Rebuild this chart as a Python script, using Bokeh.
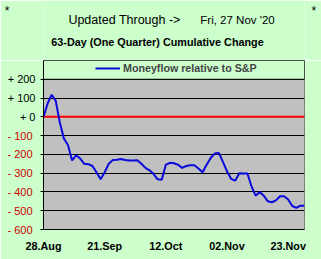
from bokeh.plotting import figure
from bokeh.models import (FixedTicker, Span, BoxAnnotation, Label, LinearAxis,
                          ColumnDataSource)
from bokeh.layouts import column
from bokeh.embed import file_html
from bokeh.resources import INLINE

# ---- data -------------------------------------------------------------
day_index = list(range(65))
moneyflow = [0, 70, 118, 85, -30, -115, -150, -232, -205, -222,
             -250, -252, -262, -295, -333, -295, -250, -230, -228, -225,
             -230, -233, -232, -231, -250, -272, -285, -305, -333, -335,
             -255, -245, -247, -255, -272, -262, -258, -258, -275, -295,
             -255, -219, -195, -192, -240, -290, -330, -340, -300, -302,
             -302, -370, -420, -400, -420, -450, -455, -445, -423, -423,
             -440, -475, -485, -473, -473]
x_tick_pos = [0, 15, 30, 45, 60]
x_tick_labels = ["28.Aug", "21.Sep", "12.Oct", "02.Nov", "23.Nov"]
y_ticks = [200, 100, 0, -100, -200, -300, -400, -500, -600]
y_tick_labels = ["+ 200", "+ 100", "+ 0", "- 100", "- 200", "- 300",
                 "- 400", "- 500", "- 600"]
series_name = "Moneyflow relative to S&P"
chart_title = "63-Day (One Quarter) Cumulative Change"
header_left = "Updated Through ->"
header_date = "Fri, 27 Nov '20"
corner_mark = "*"

BG = "#CCFFCC"
NEG_RED = "#CC0000"
FONT = "Liberation Sans"
W, H = 321, 259
HEAD_H = 60
MAIN_H = H - HEAD_H
LB, RB = 43, 17

# ---- header strip -----------------------------------------------------
head = figure(width=W, height=HEAD_H, x_range=(0, W - LB - RB),
              y_range=(0, HEAD_H), output_backend="svg",
              toolbar_location=None, x_axis_type=None,
              min_border_left=LB, min_border_right=RB, min_border_top=0,
              min_border_bottom=0)
head.background_fill_color = BG
head.border_fill_color = BG
head.outline_line_color = None
head.xgrid.visible = False
head.ygrid.visible = False

star_tick = HEAD_H - 10
left_star = head.yaxis[0]
right_star = LinearAxis()
head.add_layout(right_star, "right")
for ax, standoff in [(left_star, 34), (right_star, 7)]:
    ax.ticker = FixedTicker(ticks=[star_tick])
    ax.major_label_overrides = {star_tick: corner_mark}
    ax.major_label_text_font = FONT
    ax.major_label_text_font_size = "12px"
    ax.major_label_text_color = "black"
    ax.major_label_standoff = standoff
    ax.axis_line_color = None
    ax.major_tick_line_color = None
    ax.minor_tick_line_color = None
    ax.major_tick_out = 0
    ax.major_tick_in = 0
    ax.minor_tick_out = 0
    ax.minor_tick_in = 0

for txt, x, y, size, style in [
    (header_left, 124, 19, "12.5px", "normal"),
    (header_date, 237, 19, "11.5px", "normal"),
    (chart_title, 157, 41, "10.8px", "bold"),
]:
    head.add_layout(Label(x=x - LB, y=HEAD_H - y, x_units="screen",
                          y_units="screen", text=txt, text_font=FONT,
                          text_font_size=size, text_font_style=style,
                          text_align="center", text_baseline="alphabetic",
                          text_color="black"))

# ---- main chart -------------------------------------------------------
p = figure(width=W, height=MAIN_H, x_range=(0, 64), y_range=(-600, 300),
           output_backend="svg", toolbar_location=None,
           min_border_left=LB, min_border_right=RB, min_border_top=0,
           min_border_bottom=30)
p.background_fill_color = "#C0C0C0"
p.border_fill_color = BG
p.outline_line_color = "#808080"

p.xaxis.ticker = FixedTicker(ticks=x_tick_pos)
p.xaxis.major_label_overrides = {t: s for t, s in zip(x_tick_pos, x_tick_labels)}
p.xaxis.major_label_text_font = FONT
p.xaxis.major_label_text_font_style = "bold"
p.xaxis.major_label_text_font_size = "10.8px"
p.xaxis.major_label_text_color = "black"
p.xaxis.major_tick_out = 0
p.xaxis.major_tick_in = 0
p.xaxis.minor_tick_out = 0
p.xaxis.minor_tick_in = 0
p.xaxis.major_label_standoff = 10
p.xaxis.axis_line_color = "black"

# inner y axis: ticks + positive labels (black)
ya = p.yaxis[0]
ya.ticker = FixedTicker(ticks=y_ticks)
ya.major_label_overrides = {v: (s if v >= 0 else "")
                            for v, s in zip(y_ticks, y_tick_labels)}
ya.major_label_text_font = FONT
ya.major_label_text_font_size = "11px"
ya.major_label_text_color = "black"
ya.major_label_standoff = 5
ya.major_tick_out = 3
ya.major_tick_in = 0
ya.minor_tick_out = 0
ya.minor_tick_in = 0
ya.axis_line_color = "black"
ya.major_tick_line_color = "black"

# outer y axis: negative labels (red), pulled back over the inner one
yb = LinearAxis(ticker=FixedTicker(ticks=y_ticks))
yb.major_label_overrides = {v: (s if v < 0 else "")
                            for v, s in zip(y_ticks, y_tick_labels)}
yb.major_label_text_font = FONT
yb.major_label_text_font_size = "11px"
yb.major_label_text_color = NEG_RED
yb.major_label_standoff = -28
yb.major_tick_out = 0
yb.major_tick_in = 0
yb.minor_tick_out = 0
yb.minor_tick_in = 0
yb.axis_line_color = None
yb.major_tick_line_color = None
yb.minor_tick_line_color = None
p.add_layout(yb, "left")

p.xgrid.visible = False
p.ygrid.ticker = FixedTicker(ticks=y_ticks)
p.ygrid.grid_line_color = "black"
p.ygrid.grid_line_width = 1

p.add_layout(Span(location=0, dimension="width", line_color="#FF0000",
                  line_width=2, level="underlay"))

p.add_layout(BoxAnnotation(bottom=200, fill_color=BG, fill_alpha=1,
                           line_color="black", line_width=1, line_alpha=1,
                           level="underlay"))

src = ColumnDataSource(dict(x=day_index, y=moneyflow))
p.line("x", "y", source=src, line_color="#0A0ADC", line_width=2,
       legend_label=series_name)

lg = p.legend[0]
lg.location = (52, 155)
lg.margin = 0
lg.padding = 0
lg.border_line_color = None
lg.background_fill_alpha = 0
lg.glyph_width = 25
lg.glyph_height = 12
lg.label_height = 12
lg.label_standoff = 3
lg.label_text_font = FONT
lg.label_text_font_style = "bold"
lg.label_text_font_size = "10.7px"
lg.label_text_baseline = "middle"

layout = column(head, p, spacing=0)
open("out.html", "w").write(file_html(layout, INLINE))
